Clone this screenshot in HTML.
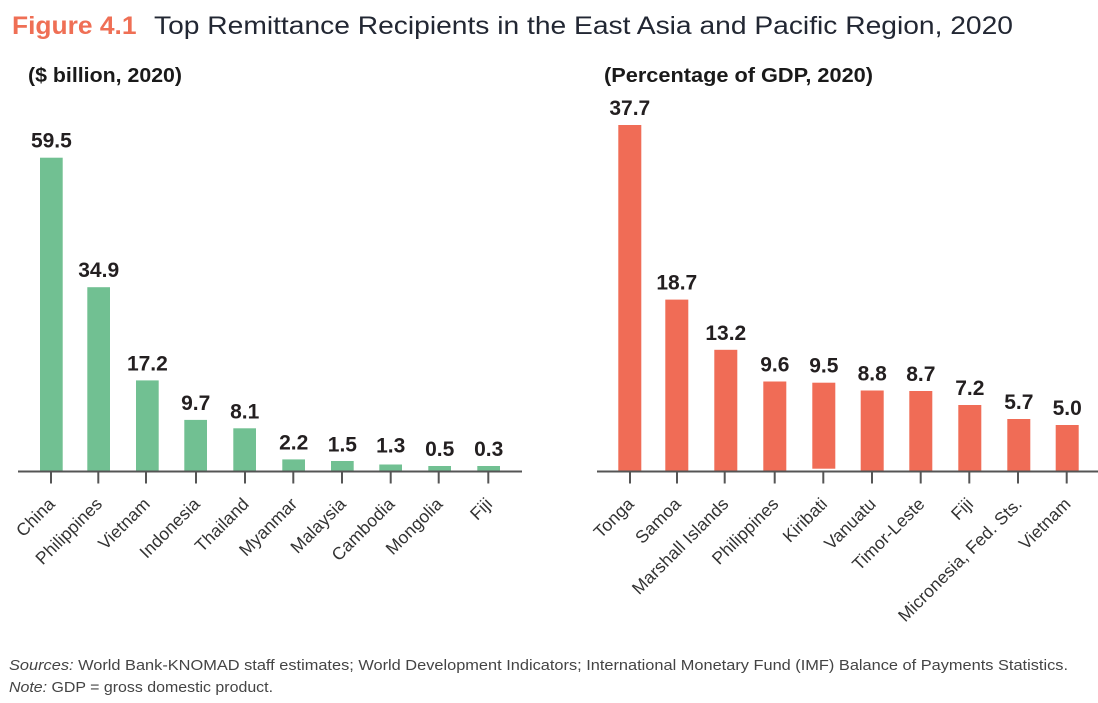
<!DOCTYPE html>
<html>
<head>
<meta charset="utf-8">
<style>
html,body{margin:0;padding:0;background:#fff;}
svg{display:block;}
text{font-family:"Liberation Sans",sans-serif;}
.v{font-size:21px;font-weight:bold;fill:#231f20;text-anchor:middle;}
.x{font-size:17.5px;fill:#333;text-anchor:end;letter-spacing:0.1px;}
</style>
</head>
<body>
<svg width="1098" height="703" viewBox="0 0 1098 703" xmlns="http://www.w3.org/2000/svg">
<rect width="1098" height="703" fill="#fff"/>
<!-- Title -->
<text x="12" y="34" font-size="25" font-weight="bold" fill="#ef6f55" textLength="124.5" lengthAdjust="spacingAndGlyphs">Figure 4.1</text>
<text x="154" y="34" font-size="25" fill="#222733" textLength="859" lengthAdjust="spacingAndGlyphs">Top Remittance Recipients in the East Asia and Pacific Region, 2020</text>
<!-- Subtitles -->
<text x="28" y="82" font-size="20" font-weight="bold" fill="#1a1a1a" textLength="154" lengthAdjust="spacingAndGlyphs">($ billion, 2020)</text>
<text x="604" y="82" font-size="20" font-weight="bold" fill="#1a1a1a" textLength="269" lengthAdjust="spacingAndGlyphs">(Percentage of GDP, 2020)</text>

<!-- LEFT CHART bars -->
<g fill="#71c092">
<rect x="40" y="157.7" width="22.7" height="313.3"/>
<rect x="87.3" y="287.2" width="22.7" height="183.8"/>
<rect x="136" y="380.4" width="22.7" height="90.6"/>
<rect x="184.3" y="419.9" width="22.7" height="51.1"/>
<rect x="233.3" y="428.3" width="22.7" height="42.7"/>
<rect x="282.3" y="459.4" width="22.7" height="11.6"/>
<rect x="331" y="461" width="22.7" height="10"/>
<rect x="379.3" y="464.5" width="22.7" height="6.5"/>
<rect x="428.3" y="466" width="22.7" height="5"/>
<rect x="477.3" y="466" width="22.7" height="5"/>
</g>
<g class="v">
<text x="51.4" y="147.7">59.5</text>
<text x="98.7" y="277.2">34.9</text>
<text x="147.4" y="370.4">17.2</text>
<text x="195.7" y="409.9">9.7</text>
<text x="244.7" y="418.3">8.1</text>
<text x="293.7" y="449.4">2.2</text>
<text x="342.4" y="451.5">1.5</text>
<text x="390.7" y="452.5">1.3</text>
<text x="439.7" y="456">0.5</text>
<text x="488.7" y="456">0.3</text>
</g>
<line x1="18" y1="471.5" x2="522" y2="471.5" stroke="#555" stroke-width="2"/>
<g stroke="#555" stroke-width="2">
<line x1="51" y1="472" x2="51" y2="483.5"/>
<line x1="98.3" y1="472" x2="98.3" y2="483.5"/>
<line x1="146" y1="472" x2="146" y2="483.5"/>
<line x1="196" y1="472" x2="196" y2="483.5"/>
<line x1="245" y1="472" x2="245" y2="483.5"/>
<line x1="293.3" y1="472" x2="293.3" y2="483.5"/>
<line x1="342" y1="472" x2="342" y2="483.5"/>
<line x1="390.7" y1="472" x2="390.7" y2="483.5"/>
<line x1="438.7" y1="472" x2="438.7" y2="483.5"/>
<line x1="488.3" y1="472" x2="488.3" y2="483.5"/>
</g>
<g class="x">
<text transform="translate(56,505) rotate(-45)">China</text>
<text transform="translate(103.3,505) rotate(-45)">Philippines</text>
<text transform="translate(151,505) rotate(-45)">Vietnam</text>
<text transform="translate(201,505) rotate(-45)">Indonesia</text>
<text transform="translate(250,505) rotate(-45)">Thailand</text>
<text transform="translate(298.3,505) rotate(-45)">Myanmar</text>
<text transform="translate(347,505) rotate(-45)">Malaysia</text>
<text transform="translate(395.7,505) rotate(-45)">Cambodia</text>
<text transform="translate(443.7,505) rotate(-45)">Mongolia</text>
<text transform="translate(493.3,505) rotate(-45)">Fiji</text>
</g>

<!-- RIGHT CHART bars -->
<g fill="#f06c56">
<rect x="618.3" y="125" width="23" height="346"/>
<rect x="665.3" y="299.6" width="23" height="171.4"/>
<rect x="714.3" y="349.8" width="23" height="121.2"/>
<rect x="763.3" y="381.5" width="23" height="89.5"/>
<rect x="812.3" y="382.7" width="23" height="86"/>
<rect x="860.7" y="390.5" width="23" height="80.5"/>
<rect x="909.3" y="391" width="23" height="80"/>
<rect x="958.3" y="405" width="23" height="66"/>
<rect x="1007.3" y="419" width="23" height="52"/>
<rect x="1055.7" y="425" width="23" height="46"/>
</g>
<g class="v">
<text x="629.8" y="115">37.7</text>
<text x="676.8" y="289.6">18.7</text>
<text x="725.8" y="339.8">13.2</text>
<text x="774.8" y="371.5">9.6</text>
<text x="823.8" y="372.7">9.5</text>
<text x="872.2" y="380.5">8.8</text>
<text x="920.8" y="381">8.7</text>
<text x="969.8" y="395">7.2</text>
<text x="1018.8" y="409">5.7</text>
<text x="1067.2" y="415">5.0</text>
</g>
<line x1="597" y1="471.5" x2="1098" y2="471.5" stroke="#555" stroke-width="2"/>
<g stroke="#555" stroke-width="2">
<line x1="630" y1="472" x2="630" y2="483.5"/>
<line x1="677" y1="472" x2="677" y2="483.5"/>
<line x1="724.7" y1="472" x2="724.7" y2="483.5"/>
<line x1="774.7" y1="472" x2="774.7" y2="483.5"/>
<line x1="823.3" y1="472" x2="823.3" y2="483.5"/>
<line x1="872" y1="472" x2="872" y2="483.5"/>
<line x1="920.7" y1="472" x2="920.7" y2="483.5"/>
<line x1="969.3" y1="472" x2="969.3" y2="483.5"/>
<line x1="1018" y1="472" x2="1018" y2="483.5"/>
<line x1="1066.7" y1="472" x2="1066.7" y2="483.5"/>
</g>
<g class="x">
<text transform="translate(635,505) rotate(-45)">Tonga</text>
<text transform="translate(682,505) rotate(-45)">Samoa</text>
<text transform="translate(729.7,505) rotate(-45)">Marshall Islands</text>
<text transform="translate(779.7,505) rotate(-45)">Philippines</text>
<text transform="translate(828.3,505) rotate(-45)">Kiribati</text>
<text transform="translate(877,505) rotate(-45)">Vanuatu</text>
<text transform="translate(925.7,505) rotate(-45)">Timor-Leste</text>
<text transform="translate(974.3,505) rotate(-45)">Fiji</text>
<text transform="translate(1023,505) rotate(-45)">Micronesia, Fed. Sts.</text>
<text transform="translate(1071.7,505) rotate(-45)">Vietnam</text>
</g>

<!-- Sources -->
<text x="9" y="670" font-size="15" fill="#444" textLength="1059" lengthAdjust="spacingAndGlyphs"><tspan font-style="italic">Sources:</tspan> World Bank-KNOMAD staff estimates; World Development Indicators; International Monetary Fund (IMF) Balance of Payments Statistics.</text>
<text x="9" y="692" font-size="15" fill="#444" textLength="264" lengthAdjust="spacingAndGlyphs"><tspan font-style="italic">Note:</tspan> GDP = gross domestic product.</text>
</svg>
</body>
</html>
